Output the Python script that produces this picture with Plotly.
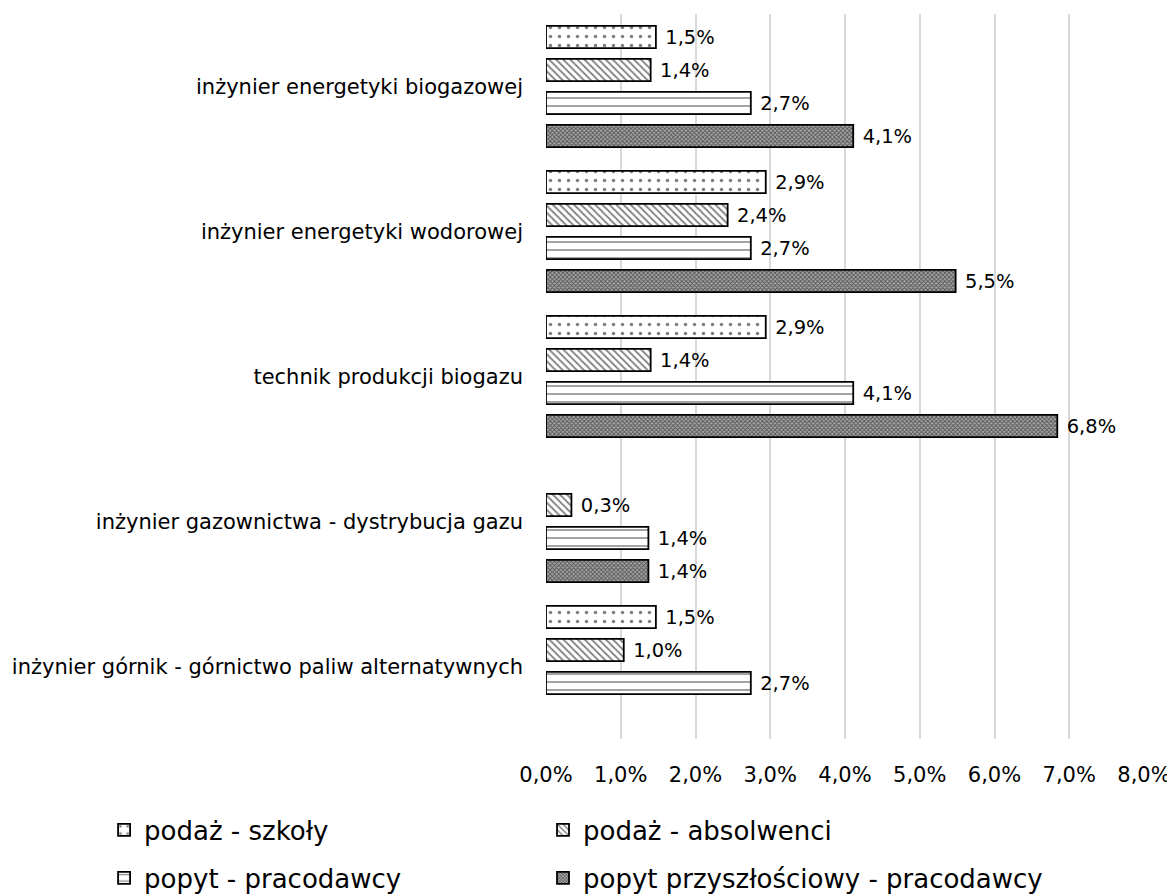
import plotly.graph_objects as go

# kategorie (od góry)
zawody = [
    "inżynier energetyki biogazowej",
    "inżynier energetyki wodorowej",
    "technik produkcji biogazu",
    "inżynier gazownictwa - dystrybucja gazu",
    "inżynier górnik - górnictwo paliw alternatywnych",
]

podaz_szkoly = [0.0147, 0.0294, 0.0294, None, 0.0147]
podaz_absolwenci = [0.0140, 0.0243, 0.0140, 0.0034, 0.0104]
popyt_pracodawcy = [0.0274, 0.0274, 0.0411, 0.0137, 0.0274]
popyt_przyszlosciowy = [0.0411, 0.0548, 0.0684, 0.0137, None]

# każdy wpis legendy osobno (2 kolumny x 2 wiersze)
serie = [
    ("podaż - szkoły", podaz_szkoly, dict(shape=".", size=9, solidity=0.12, bgcolor="white"), "legend"),
    ("podaż - absolwenci", podaz_absolwenci, dict(shape="\\", size=5, solidity=0.35, bgcolor="white"), "legend2"),
    ("popyt - pracodawcy", popyt_pracodawcy, dict(shape="-", size=8, solidity=0.18, bgcolor="white"), "legend3"),
    ("popyt przyszłościowy - pracodawcy", popyt_przyszlosciowy, dict(shape="x", size=3, solidity=0.5, bgcolor="#a8a8a8"), "legend4"),
]

FONT = "DejaVu Sans"

fig = go.Figure()
for nazwa, wartosci, wzor, leg in serie:
    fig.add_trace(go.Bar(
        y=zawody,
        x=wartosci,
        name=nazwa,
        orientation="h",
        legend=leg,
        showlegend=True,
        marker=dict(
            color="white",
            line=dict(color="black", width=1.8),
            pattern=dict(fgcolor="black", fillmode="overlay", **wzor),
        ),
        texttemplate="\u2004%{x:.1%}",
        textposition="outside",
        textfont=dict(size=22, color="black", family=FONT),
        cliponaxis=False,
    ))

leg_common = dict(
    orientation="h",
    xanchor="left",
    yanchor="middle",
    font=dict(size=26, family=FONT),
    itemwidth=30,
    bgcolor="rgba(0,0,0,0)",
    visible=True,
)

fig.update_layout(
    showlegend=True,
    barmode="group",
    bargap=0.09,
    bargroupgap=0.33,
    separators=", ",
    width=1167,
    height=887,
    margin=dict(l=538, r=31, t=6, b=156, autoexpand=False),
    paper_bgcolor="white",
    plot_bgcolor="white",
    font=dict(family=FONT, size=20, color="black"),
    legend=dict(x=-0.739, y=-0.1255, **leg_common),
    legend2=dict(x=-0.005, y=-0.1255, **leg_common),
    legend3=dict(x=-0.739, y=-0.1917, **leg_common),
    legend4=dict(x=-0.005, y=-0.1917, **leg_common),
)
fig.update_xaxes(
    range=[0, 0.08],
    dtick=0.01,
    tickformat=".1%",
    showgrid=True,
    gridcolor="#d9d9d9",
    gridwidth=2,
    zeroline=False,
    showline=False,
    ticks="",
    ticklabelstandoff=21,
    tickfont=dict(size=21),
    automargin=False,
)
fig.update_yaxes(
    autorange="reversed",
    showgrid=False,
    showline=False,
    ticks="",
    ticklabelstandoff=22,
    tickfont=dict(size=21),
    automargin=False,
)

fig.write_html("out.html")
